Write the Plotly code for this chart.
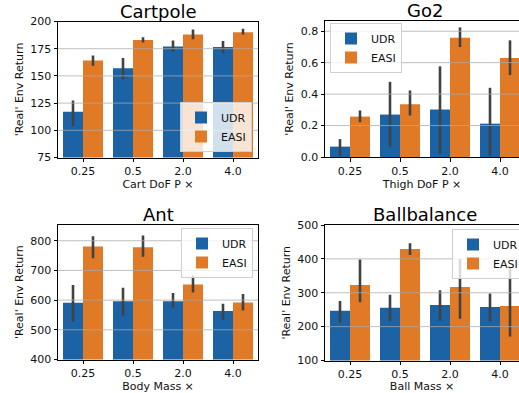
import plotly.graph_objects as go

W, H = 519, 393
FONT = "DejaVu Sans"
BLUE = "#1b63a5"
ORANGE = "#e07a27"
ERR = "#424242"

categories = ["0.25", "0.5", "2.0", "4.0"]
series_names = ["UDR", "EASI"]

# Cartpole
cart_udr = [117, 157, 177, 176.5]
cart_udr_lo = [104, 147, 172, 170.6]
cart_udr_hi = [127.4, 166.4, 182.5, 182]
cart_easi = [164.2, 182.9, 188, 190.2]
cart_easi_lo = [159.3, 180.7, 183.8, 188]
cart_easi_hi = [168.8, 185.6, 192.6, 193.3]

# Go2
go2_udr = [0.066, 0.27, 0.302, 0.212]
go2_udr_lo = [0.006, 0.066, 0.021, 0.006]
go2_udr_hi = [0.114, 0.478, 0.577, 0.44]
go2_easi = [0.257, 0.335, 0.759, 0.629]
go2_easi_lo = [0.221, 0.264, 0.699, 0.521]
go2_easi_hi = [0.296, 0.423, 0.824, 0.742]

# Ant
ant_udr = [591, 596.6, 596.6, 563]
ant_udr_lo = [526.8, 547, 574, 533.6]
ant_udr_hi = [650.6, 641.5, 623.6, 587.5]
ant_easi = [781, 777.7, 653, 592]
ant_easi_lo = [740.6, 746, 626, 565]
ant_easi_hi = [814.8, 818, 683, 621]

# Ballbalance
bb_udr = [246.6, 255.5, 264, 258]
bb_udr_lo = [212, 216, 217, 215]
bb_udr_hi = [276, 293.8, 307.7, 297.6]
bb_easi = [323, 429.5, 317, 261]
bb_easi_lo = [272, 411.8, 223, 170.8]
bb_easi_hi = [398, 446, 400, 375]

panels = [
    dict(title="Cartpole", xt="Cart DoF P \u00d7", udr=(cart_udr, cart_udr_lo, cart_udr_hi),
         easi=(cart_easi, cart_easi_lo, cart_easi_hi), yrange=[75, 200], ticks=[75, 100, 125, 150, 175, 200],
         ticktext=None, px=(58, 258), py=(21.5, 157.5), xr=[-0.5, 3.5], right=False,
         leg=dict(x=252 / W, y=1 - 152 / H, xanchor="right", yanchor="bottom")),
    dict(title="Go2", xt="Thigh DoF P \u00d7", udr=(go2_udr, go2_udr_lo, go2_udr_hi),
         easi=(go2_easi, go2_easi_lo, go2_easi_hi), yrange=[0, 0.865], ticks=[0, 0.2, 0.4, 0.6, 0.8],
         ticktext=["0.0", "0.2", "0.4", "0.6", "0.8"], px=(325, 519), py=(21, 157), xr=[-0.5, 3.38], right=True,
         leg=dict(x=330 / W, y=1 - 23 / H, xanchor="left", yanchor="top")),
    dict(title="Ant", xt="Body Mass \u00d7", udr=(ant_udr, ant_udr_lo, ant_udr_hi),
         easi=(ant_easi, ant_easi_lo, ant_easi_hi), yrange=[400, 853], ticks=[400, 500, 600, 700, 800],
         ticktext=None, px=(58, 258), py=(225, 359.5), xr=[-0.5, 3.5], right=False,
         leg=dict(x=253 / W, y=1 - 228 / H, xanchor="right", yanchor="top")),
    dict(title="Ballbalance", xt="Ball Mass \u00d7", udr=(bb_udr, bb_udr_lo, bb_udr_hi),
         easi=(bb_easi, bb_easi_lo, bb_easi_hi), yrange=[100, 500], ticks=[100, 200, 300, 400, 500],
         ticktext=None, px=(325, 519), py=(225, 360.5), xr=[-0.5, 3.38], right=True,
         leg=dict(x=452 / W, y=1 - 229 / H, xanchor="left", yanchor="top")),
]

fig = go.Figure()
layout = dict(
    width=W, height=H, margin=dict(l=0, r=0, t=0, b=0, autoexpand=False),
    paper_bgcolor="white", plot_bgcolor="white",
    font=dict(family=FONT, size=11, color="black"),
    barmode="group", bargap=0.2, bargroupgap=0.0,
)
shapes = []
annotations = []

for i, p in enumerate(panels):
    n = i + 1
    xa = "x" if n == 1 else f"x{n}"
    ya = "y" if n == 1 else f"y{n}"
    leg = "legend" if n == 1 else f"legend{n}"
    for name, (vals, lo, hi), col in (("UDR", p["udr"], BLUE), ("EASI", p["easi"], ORANGE)):
        fig.add_trace(go.Bar(
            x=categories, y=vals, name=name, marker=dict(color=col, line=dict(width=0)),
            error_y=dict(type="data", symmetric=False,
                         array=[h - v for h, v in zip(hi, vals)],
                         arrayminus=[v - l for v, l in zip(vals, lo)],
                         color=ERR, thickness=2.6, width=0),
            xaxis=xa, yaxis=ya, legend=leg, showlegend=True,
        ))
    x0, x1 = p["px"]
    y0, y1 = p["py"]
    axis_common = dict(showline=True, linecolor="black", linewidth=1, ticks="outside",
                       ticklen=3.5, tickwidth=1, tickcolor="black", showgrid=False, zeroline=False,
                       automargin=False,
                       tickfont=dict(family=FONT, size=11, color="#111"))
    layout["xaxis" if n == 1 else f"xaxis{n}"] = dict(
        domain=[x0 / W, x1 / W], anchor=ya, type="category", range=p["xr"],
        mirror=True, title=dict(text=p["xt"], font=dict(family=FONT, size=11, color="#111"), standoff=2),
        **axis_common)
    yd = dict(domain=[1 - y1 / H, 1 - y0 / H], anchor=xa, range=p["yrange"],
              tickvals=p["ticks"], mirror=(not p["right"]),
              title=dict(text="'Real' Env Return", font=dict(family=FONT, size=11, color="#111"), standoff=4),
              **axis_common)
    if p["ticktext"]:
        yd["ticktext"] = p["ticktext"]
    layout["yaxis" if n == 1 else f"yaxis{n}"] = yd
    layout[leg] = dict(**p["leg"], bgcolor="rgba(255,255,255,0.8)", bordercolor="#d0d0d0",
                       borderwidth=1, font=dict(family=FONT, size=11, color="#111"),
                       tracegroupgap=2, itemsizing="constant")
    for t in p["ticks"][1:-1] if p["ticks"][-1] >= p["yrange"][1] - 1e-9 else p["ticks"][1:]:
        shapes.append(dict(type="line", xref=f"{xa} domain", yref=ya, x0=0, x1=1, y0=t, y1=t,
                           line=dict(color="rgba(170,170,170,0.75)", width=1), layer="above"))
    annotations.append(dict(text=p["title"], xref="paper", yref="paper",
                            x=(x0 + (x0 + 200)) / 2 / W, y=1 - (y0 - 10) / H,
                            xanchor="center", yanchor="middle", showarrow=False,
                            font=dict(family=FONT, size=18, color="black")))

layout["shapes"] = shapes
layout["annotations"] = annotations
fig.update_layout(**layout)
fig.write_html(
    "out.html",
    config={"displayModeBar": False, "staticPlot": True},
    post_script="document.body.style.margin='0';document.body.style.overflow='hidden';",
)
